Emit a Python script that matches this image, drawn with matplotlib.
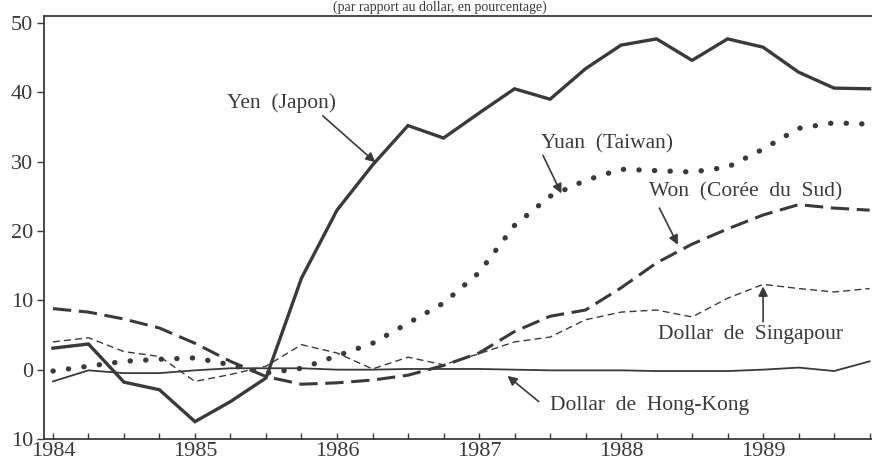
import matplotlib
matplotlib.use("Agg")
import matplotlib.pyplot as plt
import numpy as np

# quarterly observations, 1984 Q1 .. 1989 Q4
QUARTERS = [1984 + q / 4 for q in range(24)]

YEN = [3.1, 3.7, -1.8, -2.9, -7.5, -4.6, -1.2, 13.2, 23.0, 29.5, 35.2, 33.4,
       37.0, 40.5, 39.0, 43.4, 46.8, 47.7, 44.6, 47.7, 46.5, 42.9, 40.6, 40.5]
YUAN = [-0.2, 0.5, 1.2, 1.5, 1.7, 0.7, -0.5, 0.2, 2.0, 3.8, 6.7, 9.6,
        14.0, 20.8, 25.0, 27.3, 28.9, 28.7, 28.5, 29.2, 31.8, 34.8, 35.6, 35.4]
WON = [8.8, 8.3, 7.3, 6.0, 3.8, 1.2, -1.0, -2.1, -1.9, -1.5, -0.8, 0.6,
       2.4, 5.5, 7.7, 8.6, 11.8, 15.4, 18.1, 20.3, 22.3, 23.8, 23.3, 23.0]
SINGAPOUR = [4.0, 4.6, 2.6, 1.9, -1.7, -0.7, 0.5, 3.6, 2.4, 0.1, 1.8, 0.7,
             2.3, 4.0, 4.7, 7.2, 8.3, 8.6, 7.6, 10.3, 12.3, 11.7, 11.2, 11.7]
HONG_KONG = [-1.7, -0.1, -0.5, -0.5, -0.1, 0.2, 0.2, 0.2, 0.0, 0.0, 0.1, 0.1,
             0.1, 0.0, -0.1, -0.1, -0.1, -0.2, -0.2, -0.2, 0.0, 0.3, -0.2, 1.2]

YEAR_TICKS = [1984, 1985, 1986, 1987, 1988, 1989]
Y_TICKS = [-10, 0, 10, 20, 30, 40, 50]
Y_LABELS = ["10", "0", "10", "20", "30", "40", "50"]

# (label, text position, arrow tail, arrow head)
LABELS = [
    ("Yen  (Japon)", (1985.61, 38.4), (1985.90, 36.6), (1986.27, 29.9)),
    ("Yuan  (Taiwan)", (1987.90, 32.6), (1987.45, 30.9), (1987.58, 25.4)),
    ("Won  (Corée  du  Sud)", (1988.88, 25.6), (1988.27, 23.3), (1988.40, 18.0)),
    ("Dollar  de  Singapour", (1988.91, 5.0), (1989.0, 6.9), (1989.0, 12.0)),
    ("Dollar  de  Hong-Kong", (1988.20, -5.1), (1987.42, -4.6), (1987.20, -0.9)),
]

INK = "#3a3a3a"

plt.rcParams["font.family"] = ["Liberation Serif", "DejaVu Serif"]

fig = plt.figure(figsize=(8.72, 4.67), dpi=100)
ax = fig.add_axes([44 / 872, 1 - 439 / 467, 832 / 872, 423 / 467])

ax.plot(QUARTERS, HONG_KONG, color=INK, lw=1.3)
ax.plot(QUARTERS, SINGAPOUR, color=INK, lw=1.0, linestyle=(0, (5, 3)))
ax.plot(QUARTERS, WON, color=INK, lw=2.2, linestyle=(0, (6, 2.5)))
ax.plot(QUARTERS, YUAN, color=INK, lw=3.8, linestyle=(0, (0.05, 2.9)),
        dash_capstyle="round")
ax.plot(QUARTERS, YEN, color=INK, lw=2.4, solid_joinstyle="miter")

for text, pos, tail, head in LABELS:
    ax.text(pos[0], pos[1], text, ha="center", va="center", fontsize=15.5, color=INK)
    ax.annotate("", xy=head, xytext=tail,
                arrowprops=dict(arrowstyle="-|>", color=INK, lw=1.2,
                                mutation_scale=14, shrinkA=0, shrinkB=0))

ax.set_xlim(1983.937, 1989.795)
ax.set_ylim(-10, 51)

ax.set_xticks(YEAR_TICKS)
ax.set_xticklabels([str(y) for y in YEAR_TICKS])
ax.set_xticks(QUARTERS, minor=True)
ax.tick_params(axis="x", which="both", direction="in", length=4, width=1,
               color=INK, labelsize=16, labelcolor=INK, pad=2)

ax.set_yticks(Y_TICKS)
ax.set_yticklabels(Y_LABELS)
ax.tick_params(axis="y", which="major", direction="out", length=5, width=1,
               color=INK, labelsize=16, labelcolor=INK, pad=3,
               right=True)

for side in ["left", "bottom", "top", "right"]:
    ax.spines[side].set_color(INK)
    ax.spines[side].set_linewidth(1.3)

# caption at the very top edge of the scan
fig.text(0.505, 0.999, "(par rapport au dollar, en pourcentage)", ha="center",
         va="top", fontsize=10, color=INK)

fig.savefig("out.png", dpi=100)
